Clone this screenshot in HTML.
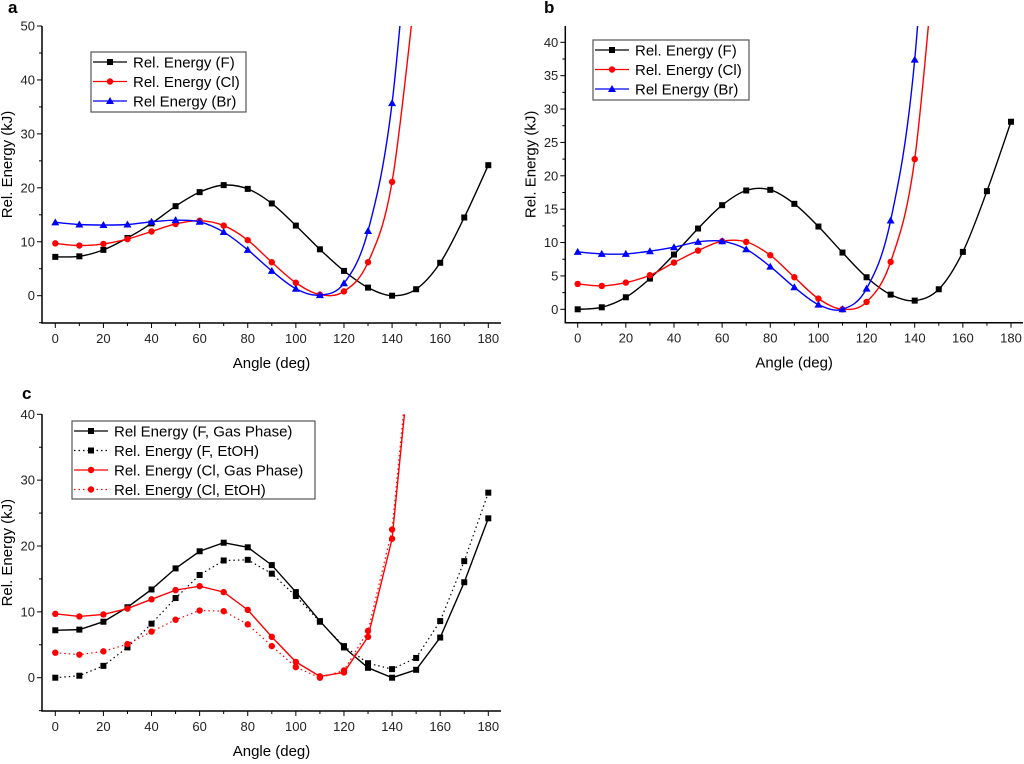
<!DOCTYPE html>
<html><head><meta charset="utf-8"><style>
body{margin:0;background:#fff;width:1024px;height:759px;overflow:hidden}
svg{font-family:"Liberation Sans",Arial,sans-serif}
</style></head><body>
<svg id="s" width="1024" height="759" viewBox="0 0 1024 759"></svg>
<script>
const angles=[0,10,20,30,40,50,60,70,80,90,100,110,120,130,140,150,160,170,180];
const fGas=[7.2,7.3,8.5,10.7,13.4,16.6,19.2,20.5,19.8,17.1,13.0,8.6,4.6,1.5,0,1.2,6.1,14.5,24.2];
const clGas=[9.7,9.3,9.6,10.5,11.9,13.3,13.9,13.0,10.3,6.2,2.4,0.2,0.8,6.2,21.1,58];
const brGas=[13.6,13.2,13.1,13.2,13.7,14.0,13.7,11.8,8.5,4.6,1.3,0.1,2.3,12.0,35.7,85];
const fEtoh=[0,0.3,1.8,4.6,8.2,12.1,15.6,17.8,17.9,15.8,12.4,8.5,4.8,2.2,1.3,3.0,8.6,17.7,28.1];
const clEtoh=[3.8,3.5,4.0,5.1,7.0,8.8,10.2,10.1,8.1,4.8,1.6,0,1.1,7.1,22.5,60];
const brEtoh=[8.6,8.3,8.3,8.7,9.3,10.1,10.2,9.0,6.4,3.3,0.7,0,3.1,13.3,37.4,90];
const xTicks=[0,20,40,60,80,100,120,140,160,180];
const yTicksA=[0,10,20,30,40,50];
const yTicksB=[0,5,10,15,20,25,30,35,40];
const yTicksC=[0,10,20,30,40];

const S=document.getElementById('s');
const NS='http://www.w3.org/2000/svg';
function mk(tag,at,parent){const e=document.createElementNS(NS,tag);for(const k in at)e.setAttribute(k,at[k]);(parent||S).appendChild(e);return e;}

function panel(P){
  const g=mk('g',{});
  
  
  const sx=v=>P.x0+(v-0)*(P.x180-P.x0)/180;
  const sy=v=>P.yZero+(v)*(P.yTopPx-P.yZero)/P.yTopVal;
  const cid='clip'+P.id;
  const cp=mk('clipPath',{id:cid},g);
  mk('rect',{x:P.left,y:P.top,width:P.right-P.left,height:P.bottom-P.top},cp);
  const ax=mk('path',{d:`M${P.left} ${P.top}V${P.bottom}H${P.right}`,stroke:'#000','stroke-width':1.5,fill:'none'},g);
  
  
  for(let v=0;v<=180;v+=10){
    const X=sx(v),maj=v%20==0;
    mk('line',{x1:X,x2:X,y1:P.bottom,y2:P.bottom+(maj?5:3),stroke:'#000','stroke-width':1},g);
  }
  xTicks.forEach(v=>{const t=mk('text',{x:sx(v),y:P.bottom+20,'font-size':13,'text-anchor':'middle',fill:'#222'},g);t.textContent=v;
    });
  const step=P.yTicks[1]-P.yTicks[0];
  for(let v=P.yMin;v<=P.yMax+1e-6;v+=step/2){
    const Y=sy(v);if(Y<P.top-0.5)continue;
    const maj=Math.abs((v/step)-Math.round(v/step))<1e-6;
    mk('line',{x1:P.left,x2:P.left-(maj?5:3),y1:Y,y2:Y,stroke:'#000','stroke-width':1},g);
  }
  P.yTicks.forEach(v=>{const t=mk('text',{x:P.left-7,y:sy(v)+4.5,'font-size':13,'text-anchor':'end',fill:'#222'},g);t.textContent=v;
    });
  const xt=mk('text',{x:(P.left+P.right)/2,y:P.bottom+45,'font-size':15,'text-anchor':'middle'},g);xt.textContent='Angle (deg)';
  
  const yx=P.left-30,yy=(P.top+P.bottom)/2-10;
  const yt=mk('text',{x:yx,y:yy,'font-size':15,'text-anchor':'middle',transform:`rotate(-90 ${yx} ${yy})`},g);yt.textContent='Rel. Energy (kJ)';
  
  const lt=mk('text',{x:P.lx,y:P.ly,'font-size':17,'font-weight':'bold'},g);lt.textContent=P.letter;
  
  const cg=mk('g',{'clip-path':`url(#${cid})`},g);
  P.series.forEach(s=>{
    const pts=s.data.map((v,i)=>[sx(angles[i]),sy(v)]);
    let d='M'+pts[0][0]+' '+pts[0][1];
    if(P.smooth){
      for(let i=0;i<pts.length-1;i++){
        const p0=pts[Math.max(0,i-1)],p1=pts[i],p2=pts[i+1],p3=pts[Math.min(pts.length-1,i+2)];
        const c1=[p1[0]+(p2[0]-p0[0])/6,p1[1]+(p2[1]-p0[1])/6],c2=[p2[0]-(p3[0]-p1[0])/6,p2[1]-(p3[1]-p1[1])/6];
        d+=`C${c1[0]} ${c1[1]} ${c2[0]} ${c2[1]} ${p2[0]} ${p2[1]}`;
      }
    } else pts.forEach((p,i)=>{if(i)d+=`L${p[0]} ${p[1]}`;});
    const ln=mk('path',{d,stroke:s.color,'stroke-width':s.dot?1.2:1.4,fill:'none','stroke-dasharray':s.dot?'1.5 3':'none'},cg);
    
    
    pts.forEach(p=>{
      if(p[1]<P.top-2)return;
      const m=marker(s.shape,p[0],p[1],s.color,cg);
      
      
    });
  });
  const lg=mk('g',{},g);
  
  
  mk('rect',{x:P.leg.x,y:P.leg.y,width:P.leg.w,height:P.leg.h,fill:'#fff',stroke:'#555','stroke-width':1.2},lg);
  P.series.forEach((s,i)=>{
    const Y=P.leg.y+10+i*19.5;
    const e=mk('g',{},lg);
    
    
    mk('line',{x1:P.leg.x+2,x2:P.leg.x+36,y1:Y,y2:Y,stroke:s.color,'stroke-width':1.3,'stroke-dasharray':s.dot?'1.5 3':'none'},e);
    marker(s.shape,P.leg.x+19,Y,s.color,e);
    const t=mk('text',{x:P.leg.x+42,y:Y+5.5,'font-size':15},e);t.textContent=s.label;
  });
}
function marker(shape,x,y,c,parent){
  if(shape=='sq')return mk('rect',{x:x-3,y:y-3,width:6,height:6,fill:c},parent);
  if(shape=='ci')return mk('circle',{cx:x,cy:y,r:3.2,fill:c},parent);
  return mk('path',{d:`M${x} ${y-4}L${x+4} ${y+3}L${x-4} ${y+3}Z`,fill:c},parent);
}
panel({id:'a',name:'panel-a',letter:'a',lx:8,ly:13,left:42,right:501,top:26,bottom:323,x0:55.3,x180:488.3,yZero:295.7,yTopPx:26,yTopVal:50,yMin:-5,yMax:50,yTicks:yTicksA,smooth:true,
 leg:{x:91,y:52,w:155,h:60},
 series:[{key:'f',data:fGas,color:'#000',shape:'sq',label:'Rel. Energy (F)'},{key:'cl',data:clGas,color:'#f00',shape:'ci',label:'Rel. Energy (Cl)'},{key:'br',data:brGas,color:'#00f',shape:'tr',label:'Rel Energy (Br)'}]});
panel({id:'b',name:'panel-b',letter:'b',lx:544,ly:13,left:565.3,right:1023,top:26,bottom:322.7,x0:577.7,x180:1011,yZero:309.3,yTopPx:42.3,yTopVal:40,yMin:0,yMax:42,yTicks:yTicksB,smooth:true,
 leg:{x:593,y:40,w:156,h:60},
 series:[{key:'f',data:fEtoh,color:'#000',shape:'sq',label:'Rel. Energy (F)'},{key:'cl',data:clEtoh,color:'#f00',shape:'ci',label:'Rel. Energy (Cl)'},{key:'br',data:brEtoh,color:'#00f',shape:'tr',label:'Rel Energy (Br)'}]});
panel({id:'c',name:'panel-c',letter:'c',lx:22,ly:399,left:42,right:501,top:414.3,bottom:711,x0:55.3,x180:488.3,yZero:677.7,yTopPx:414.3,yTopVal:40,yMin:-5,yMax:40,yTicks:yTicksC,smooth:false,
 leg:{x:72,y:421,w:243,h:78},
 series:[{key:'f-gas',data:fGas,color:'#000',shape:'sq',label:'Rel Energy (F, Gas Phase)'},{key:'f-etoh',data:fEtoh,color:'#000',shape:'sq',dot:true,label:'Rel. Energy (F, EtOH)'},{key:'cl-gas',data:clGas,color:'#f00',shape:'ci',label:'Rel. Energy (Cl, Gas Phase)'},{key:'cl-etoh',data:clEtoh,color:'#f00',shape:'ci',dot:true,label:'Rel. Energy (Cl, EtOH)'}]});
</script>
</body></html>
